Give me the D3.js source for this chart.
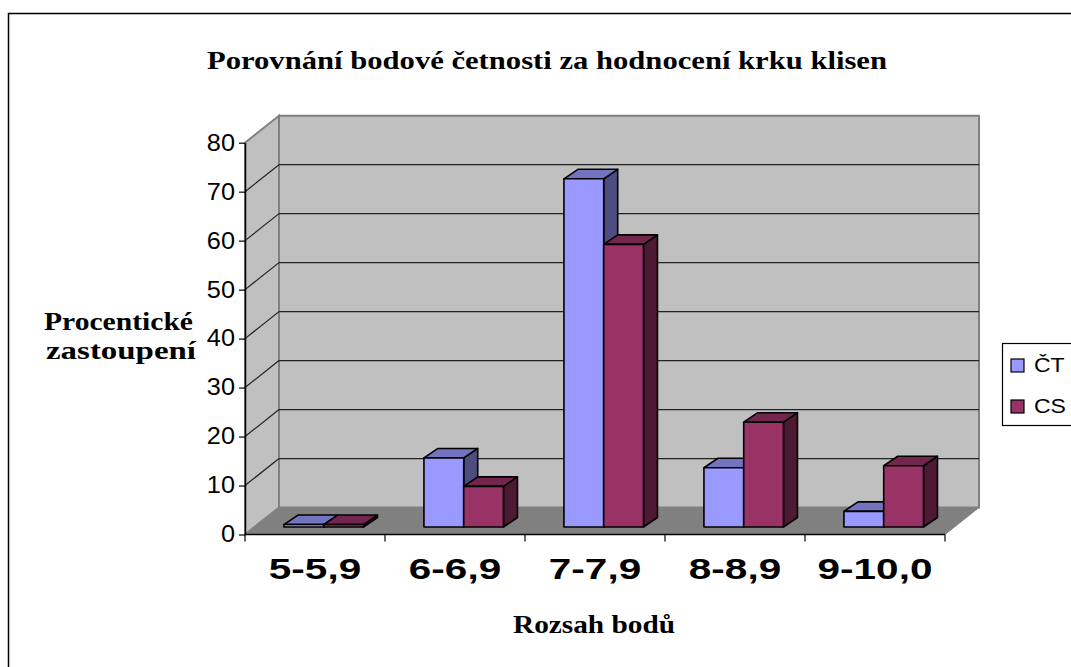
<!DOCTYPE html>
<html>
<head>
<meta charset="utf-8">
<script src="https://cdn.jsdelivr.net/npm/d3@7"></script>
<style>
  body { margin: 0; background: #fff; }
</style>
</head>
<body>
<div id="chart"></div>
<script>
const categories = ['5-5,9', '6-6,9', '7-7,9', '8-8,9', '9-10,0']
const seriesNames = ['ČT', 'CS']
const valuesCT = [0.5, 14.1, 71.1, 12.1, 3.2]
const valuesCS = [0.5, 8.3, 57.7, 21.4, 12.5]
const yTicks = [0, 10, 20, 30, 40, 50, 60, 70, 80]

const colors = {
  'ČT': { front: '#9999FF', top: '#7373BF', side: '#4D4D80' },
  'CS': { front: '#993366', top: '#73264D', side: '#4D1A33' },
}

const width = 1071
const height = 667

// plot frame (front plane)
const x0 = 245, x1 = 945
const wallDx = 34, wallDy = -27       // depth of the walls
const barDx = 8.7, barDy = -7.5        // where the bars stand inside the floor
const barDepthX = 14, barDepthY = -9.5 // depth of each bar

const sans = 'Liberation Sans, Arial, sans-serif'
const serif = 'Liberation Serif, Times New Roman, serif'

// the original text is drawn a bit wider than the font, stretch it
const stretch = (sel, k) => sel.each(function () {
  const w = this.getComputedTextLength()
  d3.select(this).attr('textLength', w * k).attr('lengthAdjust', 'spacingAndGlyphs')
})

const svg = d3.select('#chart')
  .append('svg')
  .attr('width', width)
  .attr('height', height)

// chart border (continues past the right / bottom edge)
svg.append('rect')
  .attr('x', 8.5).attr('y', 13.5)
  .attr('width', 1100).attr('height', 700)
  .attr('fill', '#fff')
  .attr('stroke', '#000')
  .attr('stroke-width', 1.5)

const y = d3.scaleLinear().domain([0, 80]).range([534.5, 142.7])
const xCat = d3.scaleBand().domain(categories).range([x0, x1])
const xBar = d3.scaleBand().domain(categories).range([x0, x1])
  .paddingInner(0.432).paddingOuter(0.216)
const xSub = d3.scaleBand().domain(seriesNames).range([0, xBar.bandwidth()])

const pts = (arr) => arr.map((p) => p.join(',')).join(' ')

// back wall
svg.append('polygon')
  .attr('points', pts([
    [x0 + wallDx, y(80) + wallDy], [x1 + wallDx, y(80) + wallDy],
    [x1 + wallDx, y(0) + wallDy], [x0 + wallDx, y(0) + wallDy],
  ]))
  .attr('fill', '#C0C0C0')
  .attr('stroke', '#808080')
  .attr('stroke-width', 2)

// side wall
svg.append('polygon')
  .attr('points', pts([
    [x0, y(0)], [x0, y(80)],
    [x0 + wallDx, y(80) + wallDy], [x0 + wallDx, y(0) + wallDy],
  ]))
  .attr('fill', '#C0C0C0')
  .attr('stroke', '#808080')
  .attr('stroke-width', 2)

// floor
svg.append('polygon')
  .attr('points', pts([
    [x0, y(0)], [x1, y(0)],
    [x1 + wallDx, y(0) + wallDy], [x0 + wallDx, y(0) + wallDy],
  ]))
  .attr('fill', '#808080')
  .attr('stroke', '#808080')
  .attr('stroke-width', 1)

// gridlines on the walls
const grid = yTicks.filter((t) => t > 0 && t < 80)
svg.append('g').selectAll('line')
  .data(grid)
  .join('line')
  .attr('x1', x0 + wallDx).attr('x2', x1 + wallDx)
  .attr('y1', (d) => y(d) + wallDy).attr('y2', (d) => y(d) + wallDy)
  .attr('stroke', '#222').attr('stroke-width', 1.2)
svg.append('g').selectAll('line')
  .data(grid)
  .join('line')
  .attr('x1', x0).attr('x2', x0 + wallDx)
  .attr('y1', (d) => y(d)).attr('y2', (d) => y(d) + wallDy)
  .attr('stroke', '#222').attr('stroke-width', 1.2)

// bars
const rows = categories.map((c, i) => ({
  cat: c,
  bars: [
    { s: 'ČT', v: valuesCT[i] },
    { s: 'CS', v: valuesCS[i] },
  ],
}))

const groups = svg.append('g').selectAll('g.cat')
  .data(rows)
  .join('g')
  .attr('class', 'cat')

const bar = groups.selectAll('g.bar')
  .data((d) => d.bars.map((b) => ({ ...b, cat: d.cat })))
  .join('g')
  .attr('class', 'bar')
  .attr('stroke', '#000')
  .attr('stroke-width', 1.6)
  .attr('stroke-linejoin', 'round')

const geo = (d) => {
  const xl = xBar(d.cat) + xSub(d.s) + barDx
  const xr = xl + xSub.bandwidth()
  const yb = y(0) + barDy
  const yt = y(d.v) + barDy
  return { xl, xr, yb, yt }
}

bar.append('polygon')
  .attr('fill', (d) => colors[d.s].side)
  .attr('points', (d) => {
    const g = geo(d)
    return pts([[g.xr, g.yt], [g.xr + barDepthX, g.yt + barDepthY],
      [g.xr + barDepthX, g.yb + barDepthY], [g.xr, g.yb]])
  })
bar.append('polygon')
  .attr('fill', (d) => colors[d.s].top)
  .attr('points', (d) => {
    const g = geo(d)
    return pts([[g.xl, g.yt], [g.xr, g.yt],
      [g.xr + barDepthX, g.yt + barDepthY], [g.xl + barDepthX, g.yt + barDepthY]])
  })
bar.append('rect')
  .attr('fill', (d) => colors[d.s].front)
  .attr('x', (d) => geo(d).xl)
  .attr('y', (d) => geo(d).yt)
  .attr('width', xSub.bandwidth())
  .attr('height', (d) => geo(d).yb - geo(d).yt)

// y axis
const yAxis = svg.append('g')
  .attr('transform', `translate(${x0},0)`)
  .call(d3.axisLeft(y).tickValues(yTicks).tickSize(6).tickPadding(4).tickSizeOuter(0))
yAxis.select('.domain').attr('stroke', '#000').attr('stroke-width', 1.5)
yAxis.selectAll('.tick line').attr('stroke', '#000').attr('stroke-width', 1.2)
yAxis.selectAll('.tick text')
  .attr('font-family', sans)
  .attr('font-size', 23)
  .attr('fill', '#000')
  .call(stretch, 1.1)

// x axis: line, boundary ticks, category labels
svg.append('line')
  .attr('x1', x0).attr('x2', x1)
  .attr('y1', y(0)).attr('y2', y(0))
  .attr('stroke', '#000').attr('stroke-width', 1.5)
const bounds = categories.map((c) => xCat(c)).concat([x1])
svg.append('g').selectAll('line')
  .data(bounds)
  .join('line')
  .attr('x1', (d) => d).attr('x2', (d) => d)
  .attr('y1', y(0)).attr('y2', y(0) + 7)
  .attr('stroke', '#000').attr('stroke-width', 1.2)

const xAxis = svg.append('g')
  .attr('transform', `translate(0,${y(0)})`)
  .call(d3.axisBottom(xCat).tickSize(0).tickPadding(23))
xAxis.select('.domain').remove()
xAxis.selectAll('.tick text')
  .attr('font-family', sans)
  .attr('font-size', 30)
  .attr('font-weight', 'bold')
  .attr('fill', '#000')
  .call(stretch, 1.35)

// titles
const addTitle = (x, yPos, len, txt) => svg.append('text')
  .attr('x', x).attr('y', yPos)
  .attr('text-anchor', 'middle')
  .attr('font-family', serif)
  .attr('font-size', 25)
  .attr('font-weight', 'bold')
  .attr('textLength', len)
  .attr('lengthAdjust', 'spacingAndGlyphs')
  .text(txt)

addTitle(547, 69, 680, 'Porovnání bodové četnosti za hodnocení krku klisen')
addTitle(594, 633, 162, 'Rozsah bodů')
addTitle(118.5, 330, 149, 'Procentické')
addTitle(121, 359, 150, 'zastoupení')

// legend
const legend = svg.append('g')
legend.append('rect')
  .attr('x', 1002.5).attr('y', 343.5)
  .attr('width', 100).attr('height', 82)
  .attr('fill', '#fff')
  .attr('stroke', '#000')
  .attr('stroke-width', 1.2)
const legendY = d3.scalePoint().domain(seriesNames).range([372, 413])
const item = legend.selectAll('g.item')
  .data(seriesNames)
  .join('g')
  .attr('class', 'item')
  .attr('transform', (d) => `translate(1011,${legendY(d)})`)
item.append('rect')
  .attr('x', 0).attr('y', -13)
  .attr('width', 13).attr('height', 13)
  .attr('fill', (d) => colors[d].front)
  .attr('stroke', '#000')
  .attr('stroke-width', 1.2)
item.append('text')
  .attr('x', 23).attr('y', 0)
  .attr('font-family', sans)
  .attr('font-size', 20)
  .attr('fill', '#000')
  .text((d) => d)
  .call(stretch, 1.15)
</script>
</body>
</html>
